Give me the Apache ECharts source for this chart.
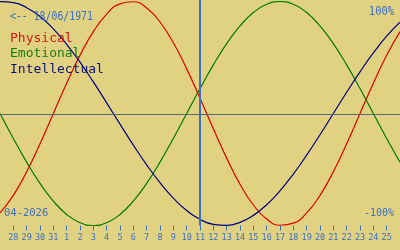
<!DOCTYPE html>
<html><head><meta charset="utf-8">
<script src="https://cdn.jsdelivr.net/npm/echarts@6/dist/echarts.min.js"></script>
<style>html,body{margin:0;padding:0;background:#e1d282;}#c{width:400px;height:250px;}</style>
</head><body><div id="c"></div>
<script>
// Days shown (first and last are edge days, unlabelled)
const days = ['27','28','29','30','31','1','2','3','4','5','6','7','8','9','10','11','12','13','14','15','16','17','18','19','20','21','22','23','24','25','26'];
const todayLabel = '11';
const physical = [-0.8879,-0.7308,-0.5196,-0.2698,0,0.2698,0.5196,0.7308,0.8879,0.9791,0.9977,0.9423,0.8170,0.6311,0.3984,0.1362,-0.1362,-0.3984,-0.6311,-0.8170,-0.9423,-0.9977,-0.9791,-0.8879,-0.7308,-0.5196,-0.2698,0,0.2698,0.5196,0.7308];
const emotional = [0,-0.2225,-0.4339,-0.6235,-0.7818,-0.9010,-0.9749,-1,-0.9749,-0.9010,-0.7818,-0.6235,-0.4339,-0.2225,0,0.2225,0.4339,0.6235,0.7818,0.9010,0.9749,1,0.9749,0.9010,0.7818,0.6235,0.4339,0.2225,0,-0.2225,-0.4339];
const intellectual = [0.9989,0.9898,0.9450,0.8660,0.7557,0.6182,0.4582,0.2817,0.0951,-0.0951,-0.2817,-0.4582,-0.6182,-0.7557,-0.8660,-0.9450,-0.9898,-0.9989,-0.9718,-0.9096,-0.8146,-0.6901,-0.5406,-0.3717,-0.1893,0,0.1893,0.3717,0.5406,0.6901,0.8146];
const legendNames = ['Physical','Emotional','Intellectual'];
const birthText = '<-- 18/06/1971';
const monthText = '04-2026';
const topText = '100%';
const bottomText = '-100%';

const FONT = '"DejaVu Sans Mono", monospace';
const BLUE = '#3b6fc4';
const lineColors = ['#e00000','#007a00','#000080'];
const textColors = ['#d41818','#1a7a10','#101078'];
const last = days.length - 1;
const showIdx = (i) => i > 0 && i < last;

const chart = echarts.init(document.getElementById('c'), null, {renderer:'canvas'});
function ser(name, data, color, extra){
  return Object.assign({name, type:'line', data, smooth:0.5, symbol:'none',
    lineStyle:{color, width:1.2}, silent:true, animation:false, z:3}, extra||{});
}
function txt(text, x, y, size, color, align, sx){
  return {type:'text', x, y, scaleX:sx||1, silent:true, z:10,
    style:{text, fill:color, font:size+'px '+FONT, align:align||'left', verticalAlign:'top'}};
}
chart.setOption({
  backgroundColor:'#e1d282',
  animation:false,
  grid:{left:0,right:0,top:0,bottom:24.5,containLabel:false},
  xAxis:{type:'category', data:days, boundaryGap:false,
    axisLine:{show:false, onZero:false},
    axisTick:{show:true, length:5, interval:(i)=>showIdx(i), lineStyle:{color:BLUE,width:1}},
    axisLabel:{interval:(i)=>showIdx(i), color:BLUE, fontFamily:FONT, fontSize:8.5, margin:7.5},
    splitLine:{show:false}},
  yAxis:{type:'value', min:-1, max:1.0134, show:false, splitLine:{show:false}},
  series:[
    ser(legendNames[0], physical, lineColors[0], {
      markLine:{silent:true, symbol:'none', label:{show:false}, animation:false,
        data:[{xAxis:todayLabel, lineStyle:{color:BLUE,width:2,type:'solid'}},
              {yAxis:-0.013, lineStyle:{color:'#56697a',width:1,type:'solid'}}]}}),
    ser(legendNames[1], emotional, lineColors[1]),
    ser(legendNames[2], intellectual, lineColors[2])
  ],
  graphic:[
    txt(birthText, 10, 11, 12, BLUE, 'left', 0.82),
    txt(topText, 394, 6, 12, BLUE, 'right', 0.87),
    txt(bottomText, 394, 208, 10, BLUE, 'right'),
    txt(monthText, 4, 208, 10.5, BLUE, 'left'),
    txt(legendNames[0], 10, 32, 13, textColors[0]),
    txt(legendNames[1], 10, 47, 13, textColors[1]),
    txt(legendNames[2], 10, 63, 13, textColors[2])
  ]
});
</script></body></html>
